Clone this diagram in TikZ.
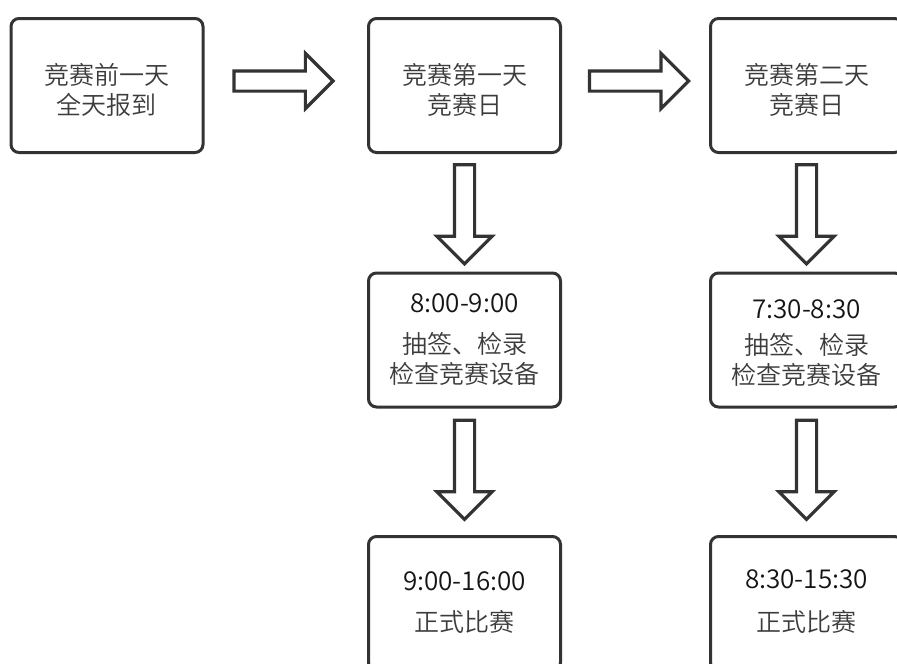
\documentclass[tikz,border=0pt]{standalone}
\usepackage{fontspec}
\setmainfont{Noto Sans CJK SC DemiLight}
\usetikzlibrary{shapes.arrows,calc}
\definecolor{linec}{HTML}{333333}
\definecolor{txtc}{HTML}{3C3C3C}
\definecolor{numc}{HTML}{151515}
\begin{document}
\begin{tikzpicture}[x=1pt,y=-1pt,
  box/.style={draw=linec, line width=3pt, rounded corners=8pt,
    minimum width=192pt, minimum height=134pt, inner sep=0pt, fill=white},
  txt/.style={align=center, inner sep=0pt, text=txtc,
    font=\fontsize{25}{30}\selectfont},
  blockarrow/.style={single arrow, draw=linec, fill=white, line width=3.2pt,
    inner xsep=0pt, inner ysep=8.5pt, single arrow head extend=17.5pt,
    single arrow tip angle=90, minimum height=99pt}
]
\useasboundingbox (0,0) rectangle (897,664);
\clip (0,0) rectangle (897,664);

% boxes
\node[box] (b1) at (107,85.5) {};
\node[box] (b2) at (464.5,85.5) {};
\node[box] (b3) at (806.5,85.5) {};
\node[box] (b4) at (464.5,340) {};
\node[box] (b5) at (806.5,340) {};
\node[box] (b6) at (464.5,603.5) {};
\node[box] (b7) at (806.5,603.5) {};

% texts
\node[txt] (t1) at ($(b1.center)+(0,4.5)$) {竞赛前一天\\全天报到};
\node[txt] (t2) at ($(b2.center)+(0,4.5)$) {竞赛第一天\\竞赛日};
\node[txt] (t3) at ($(b3.center)+(0,4.5)$) {竞赛第二天\\竞赛日};
\node[txt] (t4) at ($(b4.center)+(0,0)$) {{\color{numc}\fontsize{26}{30}\selectfont 8:00-9:00}\\[11pt]抽签、检录\\检查竞赛设备};
\node[txt] (t5) at ($(b5.center)+(0,3)$) {{\color{numc}\fontsize{26}{30}\selectfont 7:30-8:30}\\[6pt]抽签、检录\\检查竞赛设备};
\node[txt] (t6) at ($(b6.center)+(0,-1)$) {{\color{numc}\fontsize{26}{30}\selectfont 9:00-16:00}\\[11pt]正式比赛};
\node[txt] (t7) at ($(b7.center)+(0,-1.5)$) {{\color{numc}\fontsize{26}{30}\selectfont 8:30-15:30}\\[13pt]正式比赛};

% block arrows
\node[blockarrow] (a1) at ($(b1.east)!0.455!(b2.west)+(0,-4.5)$) {};
\node[blockarrow] (a2) at ($(b2.east)!0.49!(b3.west)+(0,-4.5)$) {};
\node[blockarrow, rotate=-90] (a3) at ($(b2.south)!0.47!(b4.north)$) {};
\node[blockarrow, rotate=-90] (a4) at ($(b4.south)!0.445!(b6.north)$) {};
\node[blockarrow, rotate=-90] (a5) at ($(b3.south)!0.47!(b5.north)$) {};
\node[blockarrow, rotate=-90] (a6) at ($(b5.south)!0.445!(b7.north)$) {};
\end{tikzpicture}
\end{document}
